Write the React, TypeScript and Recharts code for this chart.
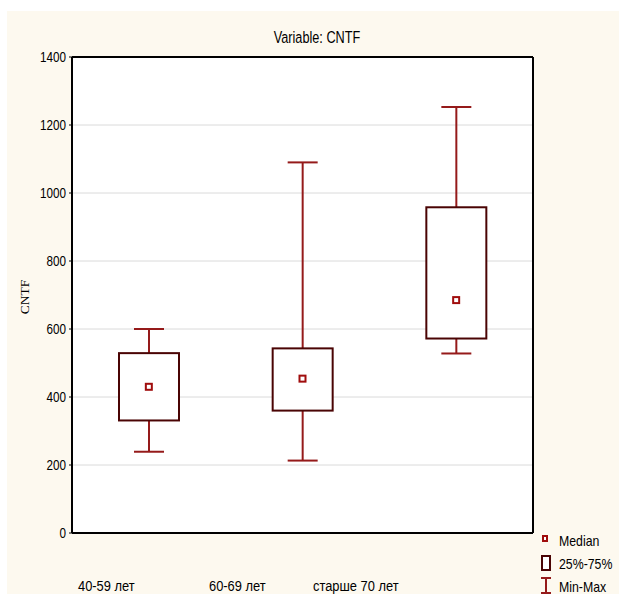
import React from 'react';
import { ComposedChart, Bar, Scatter, XAxis, YAxis, CartesianGrid } from 'recharts';

const groups = ['40-59 лет', '60-69 лет', 'старше 70 лет'];
const minValues = [239, 213, 528];
const q1Values = [331, 360, 572];
const medianValues = [430, 454, 685];
const q3Values = [529, 543, 958];
const maxValues = [600, 1090, 1253];
const yTicks = [0, 200, 400, 600, 800, 1000, 1200, 1400];
const legendItems = ['Median', '25%-75%', 'Min-Max'];

const data = groups.map((name, i) => ({
  name,
  min: minValues[i],
  q1: q1Values[i],
  median: medianValues[i],
  q3: q3Values[i],
  max: maxValues[i],
  base: q1Values[i],
  iqr: q3Values[i] - q1Values[i],
}));

const BOX = '#4a0404';
const WHISKER = '#951a1a';
const MEDIAN = '#a00d0d';
const SANS = "'Liberation Sans', Arial, sans-serif";

// condensed text, like the Statistica export
const Squeezed = ({ x, y, sx, size, anchor = 'start', children }: any) => (
  <text transform={`translate(${x},${y}) scale(${sx},1)`} fontFamily={SANS} fontSize={size} fill="#000" textAnchor={anchor}>
    {children}
  </text>
);

const YTick = (props: any) => {
  const { x, y, payload } = props;
  return (
    <text transform={`translate(${x},${y}) scale(0.78,1)`} dy="0.355em" fontFamily={SANS} fontSize={15} fill="#000" textAnchor="end">
      {payload.value}
    </text>
  );
};

const BoxShape = (props: any) => {
  const { x, y, width, height, payload } = props;
  if (!payload || !payload.iqr) return null;
  const ppu = height / payload.iqr;
  const cx = x + width / 2;
  const yMax = y - (payload.max - payload.q3) * ppu;
  const yMin = y + height + (payload.q1 - payload.min) * ppu;
  const cap = width / 4;
  return (
    <g>
      <line x1={cx} x2={cx} y1={yMax} y2={y} stroke={WHISKER} strokeWidth={2} />
      <line x1={cx} x2={cx} y1={y + height} y2={yMin} stroke={WHISKER} strokeWidth={2} />
      <line x1={cx - cap} x2={cx + cap} y1={yMax} y2={yMax} stroke={WHISKER} strokeWidth={2} />
      <line x1={cx - cap} x2={cx + cap} y1={yMin} y2={yMin} stroke={WHISKER} strokeWidth={2} />
      <rect x={x} y={y} width={width} height={height} fill="#fff" stroke={BOX} strokeWidth={2} />
    </g>
  );
};

const MedianShape = (props: any) => {
  const { cx, cy } = props;
  return <rect x={cx - 3} y={cy - 3} width={6} height={6} fill="#fff" stroke={MEDIAN} strokeWidth={2} />;
};

const App: React.FC = () => {
  return (
    <div style={{ position: 'relative', width: 619, height: 594, background: '#fff', overflow: 'hidden' }}>
      <style>{'body{margin:0}'}</style>
      <div style={{ position: 'absolute', left: 7, top: 11, right: 0, bottom: 0, background: '#fdf9ef' }} />
      <div style={{ position: 'absolute', left: 0, top: 0 }}>
        <ComposedChart width={619} height={594} data={data} margin={{ top: 57, right: 86, bottom: 61, left: 16 }}>
          <CartesianGrid xAxisId="b" yAxisId="l" vertical={false} stroke="#dadada" fill="#fff" fillOpacity={1} />
          <XAxis xAxisId="b" dataKey="name" orientation="bottom" mirror height={1} tick={false}
            tickSize={5} tickLine={{ stroke: '#000' }} axisLine={{ stroke: '#000', strokeWidth: 2 }} />
          <XAxis xAxisId="t" dataKey="name" orientation="top" mirror height={1} tick={false}
            tickSize={5} tickLine={{ stroke: '#000' }} axisLine={{ stroke: '#000', strokeWidth: 2 }} />
          <YAxis yAxisId="l" domain={[0, 1400]} ticks={yTicks} width={56} tickSize={3} tickMargin={3}
            tickLine={{ stroke: '#000' }} axisLine={{ stroke: '#000', strokeWidth: 2 }}
            tick={<YTick />} interval={0} />
          <YAxis yAxisId="r" orientation="right" mirror domain={[0, 1400]} ticks={yTicks} width={1} tick={false}
            tickSize={3} tickLine={{ stroke: '#000' }} axisLine={{ stroke: '#000', strokeWidth: 2 }} />
          <Bar xAxisId="b" yAxisId="l" dataKey="base" stackId="box" fill="transparent" barSize={60} isAnimationActive={false} />
          <Bar xAxisId="b" yAxisId="l" dataKey="iqr" stackId="box" barSize={60} shape={BoxShape} isAnimationActive={false} />
          <Scatter xAxisId="b" yAxisId="l" dataKey="median" shape={MedianShape} isAnimationActive={false} />
        </ComposedChart>
      </div>
      <svg width={619} height={594} style={{ position: 'absolute', left: 0, top: 0, pointerEvents: 'none' }}>
        <Squeezed x={317} y={43} sx={0.77} size={16.5} anchor="middle">Variable: CNTF</Squeezed>
        <text transform="translate(29,297) rotate(-90)" textAnchor="middle" fontFamily="'Liberation Serif', serif"
          fontSize={13.5} fill="#000">CNTF</text>
        {groups.map((g, i) => (
          <Squeezed key={g} x={[78, 209, 313][i]} y={591} sx={0.92} size={14}>{g}</Squeezed>
        ))}
        <g transform="translate(536,532)">
          <rect x={7} y={4} width={4} height={5} fill="#fff" stroke={MEDIAN} strokeWidth={2} />
          <rect x={6} y={24} width={8} height={14} fill="#fff" stroke={BOX} strokeWidth={2} />
          <line x1={10} x2={10} y1={45} y2={62} stroke={WHISKER} strokeWidth={2} />
          <line x1={5} x2={15} y1={46} y2={46} stroke={WHISKER} strokeWidth={2} />
          <line x1={5} x2={15} y1={61} y2={61} stroke={WHISKER} strokeWidth={2} />
          {legendItems.map((t, i) => (
            <Squeezed key={t} x={23} y={[14, 37, 60][i]} sx={0.88} size={14}>{t}</Squeezed>
          ))}
        </g>
      </svg>
    </div>
  );
};

export default App;
